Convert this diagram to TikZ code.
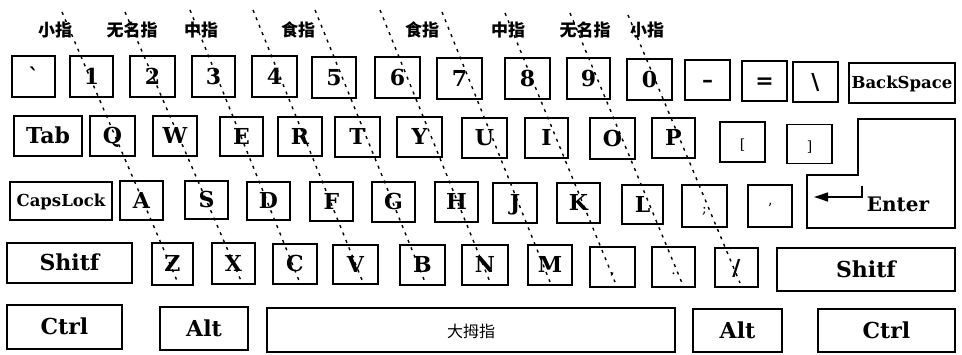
\documentclass[tikz,border=0pt]{standalone}
\usepackage{fontspec}
\setmainfont{DejaVu Serif}
\newfontfamily\cjk{Noto Sans CJK SC}
\usetikzlibrary{arrows.meta}
\newcommand\kb[6]{\node[keybox, minimum width={#4pt-#2pt}, minimum height={#5pt-#3pt}] (#1) at ({(#2+#4)/2},{(#3+#5)/2}) {#6};}
\begin{document}
\begin{tikzpicture}[x=1pt,y=-1pt,
  keybox/.style={draw, line width=1.3pt, inner sep=0pt, text height=16pt, text depth=0pt,
    font=\bfseries\fontsize{22}{22}\selectfont},
  smallkey/.style={font=\bfseries\fontsize{16.5}{16.5}\selectfont, text height=12pt},
  thinkey/.style={font=\fontsize{14}{14}\selectfont},
  finger/.style={font=\cjk\bfseries\fontsize{17}{17}\selectfont, inner sep=0pt},
  zone/.style={line width=1.4pt, dash pattern=on 3pt off 5pt}]
\useasboundingbox (0,0) rectangle (962,355);
% finger labels
\node[finger] (f1) at (55,30) {小指};
\node[finger] (f2) at (132,30) {无名指};
\node[finger] (f3) at (201,30) {中指};
\node[finger] (f4) at (298,30) {食指};
\node[finger] (f5) at (422,30) {食指};
\node[finger] (f6) at (508,30) {中指};
\node[finger] (f7) at (585,30) {无名指};
\node[finger] (f8) at (647,30) {小指};
% row 1
\kb{kgrave}{12}{56}{55}{97}{\textasciigrave}
\kb{k1}{70}{56}{113}{97}{1}
\kb{k2}{130}{56}{175}{97}{2}
\kb{k3}{192}{56}{235}{97}{3}
\kb{k4}{252}{56}{297}{97}{4}
\kb{k5}{312}{57}{356}{98}{5}
\kb{k6}{375}{57}{420}{98}{6}
\kb{k7}{437}{58}{482}{99}{7}
\kb{k8}{505}{58}{550}{99}{8}
\kb{k9}{567}{58}{610}{99}{9}
\kb{k0}{627}{59}{672}{100}{0}
\kb{kminus}{685}{60}{730}{100}{–}
\kb{keq}{742}{61}{787}{101}{=}
\kb{kbs}{793}{62}{838}{102}{\textbackslash}
\node[keybox, smallkey, minimum width=106pt, minimum height=40pt] (kback) at (902,83) {BackSpace};
% row 2
\kb{ktab}{14}{116}{82}{156}{Tab}
\kb{kq}{90}{116}{135}{156}{Q}
\kb{kw}{153}{116}{197}{156}{W}
\kb{ke}{220}{117}{263}{156}{E}
\kb{kr}{278}{117}{322}{156}{R}
\kb{kt}{335}{117}{380}{157}{T}
\kb{ky}{397}{117}{442}{157}{Y}
\kb{ku}{462}{118}{507}{158}{U}
\kb{ki}{525}{118}{568}{158}{I}
\kb{ko}{590}{118}{635}{159}{O}
\kb{kp}{652}{118}{695}{158}{P}
\node[keybox, thinkey, minimum width=45pt, minimum height=40pt] (klb) at (742.5,142) {[};
\node[keybox, thinkey, minimum width=45pt, minimum height=39pt] (krb) at (809.5,144) {]};
% Enter
\draw[line width=1.3pt] (858,119) -- (955,119) -- (955,228) -- (807,228) -- (807,175) -- (858,175) -- cycle;
\coordinate (arrtop) at (862,186);
\coordinate (arrbend) at (862,197);
\coordinate (arrend) at (814,197);
\draw[line width=1.3pt, -{Triangle[length=14pt,width=9pt]}] (arrtop) -- (arrbend) -- (arrend);
\node[font=\bfseries\fontsize{20}{20}\selectfont, inner sep=0pt] (kenter) at (898,204) {Enter};
% row 3
\node[keybox, smallkey, minimum width=102pt, minimum height=38pt] (kcaps) at (61,201) {CapsLock};
\kb{ka}{120}{181}{163}{220}{A}
\kb{ks}{185}{181}{228}{219}{S}
\kb{kd}{247}{182}{290}{220}{D}
\kb{kf}{310}{182}{353}{221}{F}
\kb{kg}{372}{182}{415}{222}{G}
\kb{kh}{435}{182}{478}{222}{H}
\kb{kj}{493}{183}{537}{223}{J}
\kb{kk}{557}{183}{600}{223}{K}
\kb{kl}{622}{185}{663}{224}{L}
\node[keybox, thinkey, minimum width=45pt, minimum height=42pt] (ksemi) at (704.5,206) {;};
\node[keybox, thinkey, minimum width=44pt, minimum height=42pt] (kquote) at (770,206) {'};
% row 4
\kb{kshl}{7}{243}{132}{283}{Shitf}
\kb{kz}{152}{243}{193}{285}{Z}
\kb{kx}{212}{243}{255}{284}{X}
\kb{kc}{273}{244}{317}{284}{C}
\kb{kv}{333}{245}{378}{284}{V}
\kb{kb}{400}{245}{445}{285}{B}
\kb{kn}{462}{245}{508}{285}{N}
\kb{km}{528}{245}{572}{285}{M}
\node[keybox, thinkey, minimum width=45pt, minimum height=40pt] (kcomma) at (612.5,267) {,};
\node[keybox, thinkey, minimum width=43pt, minimum height=40pt] (kdot) at (673.5,267) {.};
\kb{kslash}{715}{248}{758}{287}{/}
\kb{kshr}{777}{248}{955}{291}{Shitf}
% row 5
\kb{kctl}{7}{305}{122}{349}{Ctrl}
\kb{kalt}{160}{307}{248}{350}{Alt}
\node[keybox, minimum width=408pt, minimum height=44pt, font=\cjk\fontsize{16}{16}\selectfont] (kspace) at (471,330) {大拇指};
\kb{kaltr}{693}{309}{782}{352}{Alt}
\kb{kctr}{818}{309}{955}{352}{Ctrl}
% finger zone lines
\coordinate (z1a) at (62,12);   \coordinate (z1b) at (178,283);
\coordinate (z2a) at (125,12);  \coordinate (z2b) at (242,283);
\coordinate (z3a) at (190,10);  \coordinate (z3b) at (300,283);
\coordinate (z4a) at (253,10);  \coordinate (z4b) at (362,280);
\coordinate (z5a) at (315,10);  \coordinate (z5b) at (425,282);
\coordinate (z6a) at (380,10);  \coordinate (z6b) at (490,282);
\coordinate (z7a) at (442,12);  \coordinate (z7b) at (550,282);
\coordinate (z8a) at (505,13);  \coordinate (z8b) at (615,282);
\coordinate (z9a) at (570,13);  \coordinate (z9b) at (682,283);
\coordinate (z10a) at (628,15); \coordinate (z10b) at (740,283);
\foreach \i in {1,...,10} \draw[zone] (z\i a) -- (z\i b);
\end{tikzpicture}
\end{document}
